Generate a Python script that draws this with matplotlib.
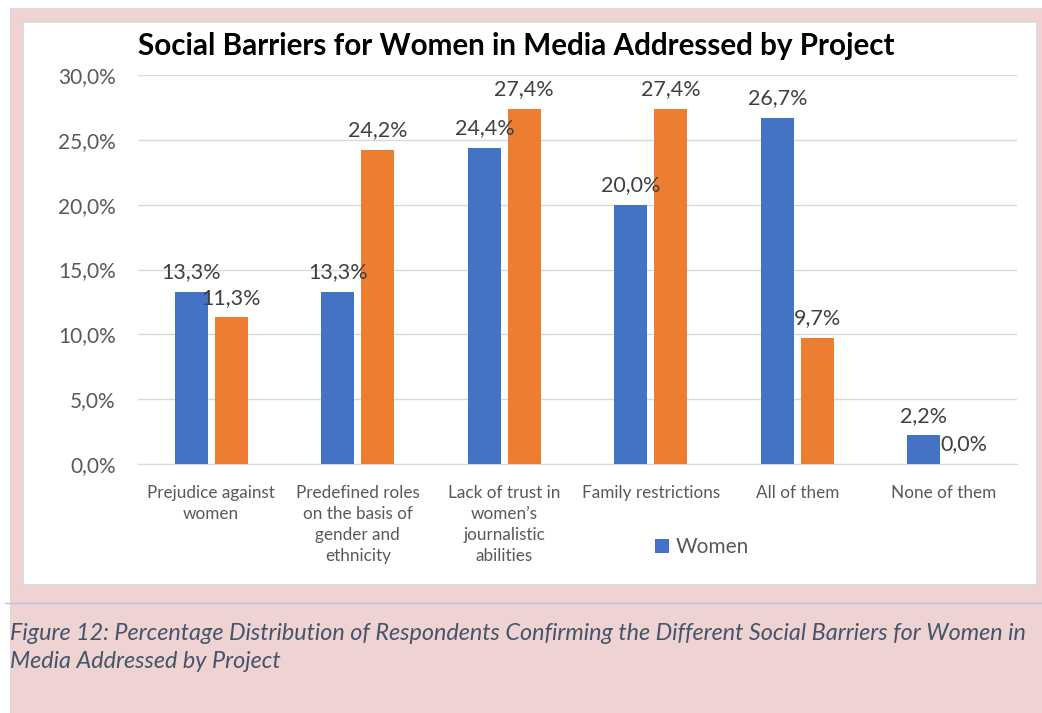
import numpy as np
from matplotlib import pyplot as plt
from matplotlib.patches import Rectangle
from matplotlib.lines import Line2D

categories = ['Prejudice against\nwomen',
              'Predefined roles\non the basis of\ngender and\nethnicity',
              'Lack of trust in\nwomen\u2019s\njournalistic\nabilities',
              'Family restrictions',
              'All of them',
              'None of them']
women = [13.3, 13.3, 24.4, 20.0, 26.7, 2.2]
men = [11.3, 24.2, 27.4, 27.4, 9.7, 0.0]
yticks = [0, 5, 10, 15, 20, 25, 30]

blue = '#4472c4'
orange = '#ed7d31'
pink = '#efd3d3'
txt = '#595959'

plt.rcParams['font.family'] = ['Lato', 'DejaVu Sans']

fig = plt.figure(figsize=(10.42, 7.13), dpi=100)
W, H = 1042, 713

# pink page panel, white chart frame, divider line
fig.patches.append(Rectangle((10 / W, 0), 1 - 10 / W, 1 - 8 / H, transform=fig.transFigure,
                             facecolor=pink, edgecolor='none', zorder=0))
fig.patches.append(Rectangle((23 / W, 1 - 585 / H), (1037 - 23) / W, (585 - 22) / H,
                             transform=fig.transFigure, facecolor='white',
                             edgecolor='#d9d9d9', linewidth=1.2, zorder=1))
fig.lines.append(Line2D([5 / W, 1], [1 - 603 / H, 1 - 603 / H], transform=fig.transFigure,
                        color='#b4c6e7', linewidth=1, zorder=2))

ax = fig.add_axes([138 / W, 1 - 464 / H, (1017 - 138) / W, (464 - 75) / H])
ax.set_facecolor('none')
ax.set_zorder(3)

x = np.arange(len(categories))
bw = 0.225
off = 0.135
b1 = ax.bar(x - off, women, bw, color=blue, label='Women', zorder=3)
b2 = ax.bar(x + off, men, bw, color=orange, zorder=3)

for bars, vals in ((b1, women), (b2, men)):
    for b, v in zip(bars, vals):
        ax.annotate(f'{v:.1f}%'.replace('.', ','), (b.get_x() + b.get_width() / 2, v),
                    xytext=(0, 7), textcoords='offset points', ha='center', va='bottom',
                    fontsize=15.5, color='#404040', zorder=4)

ax.set_xlim(-0.5, len(categories) - 0.5)
ax.set_ylim(0, 30)
ax.set_yticks(yticks)
ax.set_yticklabels([f'{t:.1f}%'.replace('.', ',') for t in yticks], fontsize=15, color=txt)
ax.set_xticks(x)
ax.set_xticklabels(categories, fontsize=12.3, color=txt, linespacing=1.4, va='top')
ax.tick_params(length=0, pad=15)
ax.tick_params(axis='y', pad=16)
ax.grid(axis='y', color='#d9d9d9', linewidth=1, zorder=0)
for s in ['top', 'right', 'left']:
    ax.spines[s].set_visible(False)
ax.spines['bottom'].set_color('#d9d9d9')

fig.text(516 / W, 1 - 46 / H, 'Social Barriers for Women in Media Addressed by Project',
         ha='center', va='center', fontsize=21.3, fontweight='bold', color='black')

ax.legend(handles=[b1], loc='center', bbox_to_anchor=(702 / W, 1 - 547 / H),
          bbox_transform=fig.transFigure, frameon=False, fontsize=15, labelcolor=txt,
          handlelength=0.65, handleheight=0.65, handletextpad=0.3)

fig.text(10 / W, 1 - 634 / H,
         'Figure 12: Percentage Distribution of Respondents Confirming the Different Social Barriers for Women in',
         ha='left', va='center', fontsize=16.8, style='italic', color='#44546a')
fig.text(10 / W, 1 - 662 / H, 'Media Addressed by Project',
         ha='left', va='center', fontsize=16.8, style='italic', color='#44546a')

fig.savefig('out.png', dpi=100, facecolor='white')
